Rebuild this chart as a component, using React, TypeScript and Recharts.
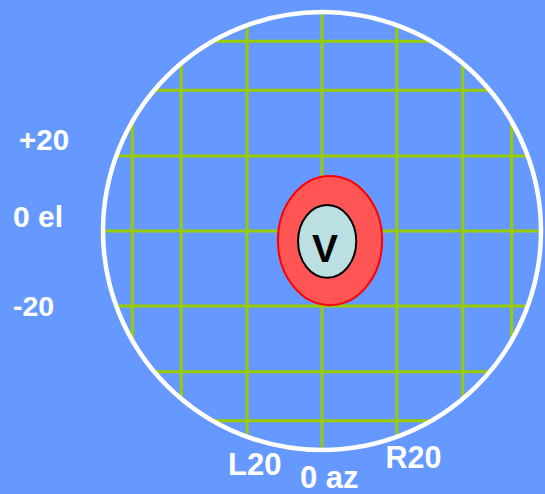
import { ComposedChart, XAxis, YAxis, ReferenceLine, ReferenceArea } from "recharts";

// grid of the view, in degrees (orthographic projection onto the disc)
const AZ_GRID = [-60, -40, -20, 0, 20, 40, 60];
const EL_GRID = [60, 40, 20, 0, -20, -40, -60];

// target marker: outer ring and inner "V" disc (centre in degrees, half sizes in disc units)
const MARKER_AZ = [2.1, 1.35];
const MARKER_EL = [-2.5, -2.7];
const MARKER_RX = [0.238, 0.133];
const MARKER_RY = [0.295, 0.166];
const MARKER_TEXT = ["", "V"];

const EL_LABELS = ["+20", "0 el", "-20"];
const AZ_LABELS = ["L20", "0 az", "R20"];

const W = 545;
const H = 494;
const R_PX = 219;
const X_DOMAIN: [number, number] = [-322 / R_PX, (W - 322) / R_PX];
const Y_DOMAIN: [number, number] = [-(H - 231) / R_PX, 231 / R_PX];
const RIM = 0.99;

const toUnit = (deg: number) => Math.sin((deg * Math.PI) / 180);

const FONT = "'Liberation Sans', Arial, Helvetica, sans-serif";

const ellipseShape =
  (fill: string, stroke: string, strokeWidth: number, text?: string) =>
  (p: any) => {
    const cx = p.x + p.width / 2;
    const cy = p.y + p.height / 2;
    return (
      <g>
        <ellipse
          cx={cx}
          cy={cy}
          rx={Math.abs(p.width) / 2}
          ry={Math.abs(p.height) / 2}
          fill={fill}
          stroke={stroke}
          strokeWidth={strokeWidth}
        />
        {text ? (
          <text
            x={cx - 2.2}
            y={cy + 20.5}
            textAnchor="middle"
            fontFamily={FONT}
            fontWeight="bold"
            fontSize={39}
            fill="#000"
          >
            {text}
          </text>
        ) : null}
      </g>
    );
  };

const labelStyle = {
  fontFamily: FONT,
  fontWeight: "bold" as const,
  fill: "#fff",
};

export default function App() {
  const elLabelPos = [
    { x: 19, y: 149.5, size: 29.5 },
    { x: 13, y: 226.7, size: 30 },
    { x: 13, y: 316, size: 28.5 },
  ];
  const azLabelPos = [
    { x: 228, y: 475, size: 31 },
    { x: 300, y: 487.7, size: 31 },
    { x: 385.5, y: 468.3, size: 30.5 },
  ];

  return (
    <div
      style={{
        position: "absolute",
        left: 0,
        top: 0,
        width: W,
        height: H,
        background: "#6699FF",
        overflow: "hidden",
      }}
    >
      <ComposedChart width={W} height={H} data={[]} margin={{ top: 0, right: 0, bottom: 0, left: 0 }}>
        <XAxis type="number" dataKey="x" domain={X_DOMAIN} hide allowDataOverflow />
        <YAxis type="number" dataKey="y" domain={Y_DOMAIN} hide allowDataOverflow />

        {AZ_GRID.map((az) => {
          const u = toUnit(az);
          const h = Math.sqrt(1 - u * u) * RIM;
          return (
            <ReferenceLine
              key={"az" + az}
              segment={[
                { x: u, y: h },
                { x: u, y: -h },
              ]}
              stroke="#99CC00"
              strokeWidth={3}
              ifOverflow="visible"
            />
          );
        })}
        {EL_GRID.map((el) => {
          const v = toUnit(el);
          const w = Math.sqrt(1 - v * v) * RIM;
          return (
            <ReferenceLine
              key={"el" + el}
              segment={[
                { x: -w, y: v },
                { x: w, y: v },
              ]}
              stroke="#99CC00"
              strokeWidth={3}
              ifOverflow="visible"
            />
          );
        })}

        <ReferenceArea
          x1={-1}
          x2={1}
          y1={-1}
          y2={1}
          ifOverflow="visible"
          zIndex={900}
          shape={ellipseShape("none", "#fff", 4.5)}
        />

        {MARKER_AZ.map((az, i) => {
          const u = toUnit(az);
          const v = toUnit(MARKER_EL[i]);
          return (
            <ReferenceArea
              key={"m" + i}
              x1={u - MARKER_RX[i]}
              x2={u + MARKER_RX[i]}
              y1={v - MARKER_RY[i]}
              y2={v + MARKER_RY[i]}
              ifOverflow="visible"
              zIndex={910 + i}
              shape={
                i === 0
                  ? ellipseShape("#FF5555", "#FF0000", 2)
                  : ellipseShape("#BCDFE2", "#000", 2, MARKER_TEXT[i])
              }
            />
          );
        })}
      </ComposedChart>

      <svg
        width={W}
        height={H}
        style={{ position: "absolute", left: 0, top: 0, pointerEvents: "none" }}
      >
        {EL_LABELS.map((t, i) => (
          <text
            key={t}
            x={elLabelPos[i].x}
            y={elLabelPos[i].y}
            fontSize={elLabelPos[i].size}
            {...labelStyle}
          >
            {t}
          </text>
        ))}
        {AZ_LABELS.map((t, i) => (
          <text
            key={t}
            x={azLabelPos[i].x}
            y={azLabelPos[i].y}
            fontSize={azLabelPos[i].size}
            {...labelStyle}
          >
            {t}
          </text>
        ))}
      </svg>
    </div>
  );
}
